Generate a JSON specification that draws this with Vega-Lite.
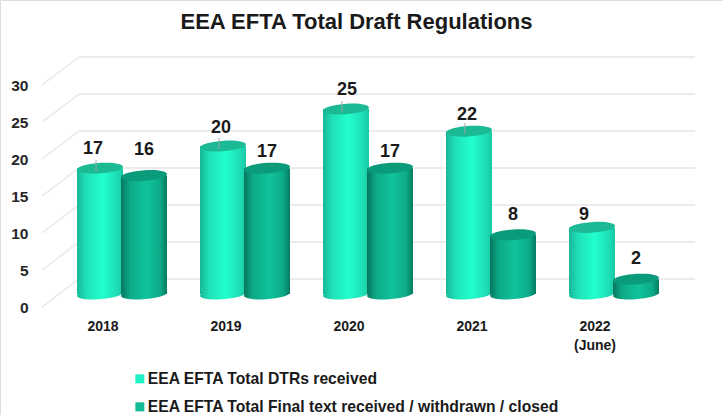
{
"$schema":"https://vega.github.io/schema/vega-lite/v6.json",
"width":723,"height":415,"padding":0,"autosize":{"type":"none"},"background":"white",
"title":{"text":"EEA EFTA Total Draft Regulations","font":"Liberation Sans","fontSize":22,"fontWeight":"bold","color":"#1a1a1a","anchor":"middle","dx":-5,"offset":-34},
"datasets":{
"bars":[
{"year":"2018","series":"EEA EFTA Total DTRs received","value":17},
{"year":"2019","series":"EEA EFTA Total DTRs received","value":20},
{"year":"2020","series":"EEA EFTA Total DTRs received","value":25},
{"year":"2021","series":"EEA EFTA Total DTRs received","value":22},
{"year":"2022","series":"EEA EFTA Total DTRs received","value":9},
{"year":"2018","series":"EEA EFTA Total Final text received / withdrawn / closed","value":16},
{"year":"2019","series":"EEA EFTA Total Final text received / withdrawn / closed","value":17},
{"year":"2020","series":"EEA EFTA Total Final text received / withdrawn / closed","value":17},
{"year":"2021","series":"EEA EFTA Total Final text received / withdrawn / closed","value":8},
{"year":"2022","series":"EEA EFTA Total Final text received / withdrawn / closed","value":2}
],
"levels":[{"level":0},{"level":5},{"level":10},{"level":15},{"level":20},{"level":25},{"level":30}]
},
"resolve":{"scale":{"x":"independent"}},
"layer":[
{"data":{"name":"levels"},"mark":{"type":"rule","color":"#e6e6e6","strokeWidth":1.2,"yOffset":13,"y2Offset":-15},
 "encoding":{"x":{"datum":0,"type":"quantitative","scale":{"domain":[0,1],"range":[42,79]},"axis":null},"x2":{"datum":1},
 "y":{"field":"level","type":"quantitative","title":null,"scale":{"domain":[0,30],"range":[294,72]},
 "axis":{"orient":"left","offset":-28,"values":[0,5,10,15,20,25,30],"domain":false,"ticks":false,"grid":false,"labelPadding":0,"labelOffset":13,"labelFont":"Liberation Sans","labelFontSize":15.5,"labelFontWeight":"bold","labelColor":"#262626"}},"y2":{"field":"level"}}},
{"data":{"name":"levels"},"mark":{"type":"rule","color":"#e6e6e6","strokeWidth":1.6,"yOffset":-15,"y2Offset":-15},
 "encoding":{"x":{"datum":0,"type":"quantitative","scale":{"domain":[0,1],"range":[79,695]},"axis":null},"x2":{"datum":1},
 "y":{"field":"level","type":"quantitative","title":null,
 "axis":{"orient":"left","offset":-28,"values":[0,5,10,15,20,25,30],"domain":false,"ticks":false,"grid":false,"labelPadding":0,"labelOffset":13,"labelFont":"Liberation Sans","labelFontSize":15.5,"labelFontWeight":"bold","labelColor":"#262626"}},"y2":{"field":"level"}}},
{"data":{"name":"bars"},
 "encoding":{
  "x":{"field":"year","type":"nominal","sort":null,"title":null,"scale":{"type":"band","paddingInner":0,"paddingOuter":0,"range":[60.5,675.5]},
   "axis":{"orient":"bottom","offset":-96,"domain":false,"ticks":false,"grid":false,"labelAngle":0,"labelOffset":-19,"labelPadding":0,"labelBaseline":"top","labelFont":"Liberation Sans","labelFontSize":14,"labelFontWeight":"bold","labelColor":"#1a1a1a","labelLineHeight":19,"labelExpr":"datum.value=='2022' ? ['2022','(June)'] : datum.label"}},
  "y":{"field":"value","type":"quantitative","title":null,"scale":{"domain":[0,30],"range":[294,72]},
   "axis":{"orient":"left","offset":-28,"values":[0,5,10,15,20,25,30],"domain":false,"ticks":false,"grid":false,"labelPadding":0,"labelOffset":13,"labelFont":"Liberation Sans","labelFontSize":15.5,"labelFontWeight":"bold","labelColor":"#262626"}}
 },
 "layer":[
  {"mark":{"type":"point","filled":true,"opacity":0},
   "encoding":{"color":{"field":"series","type":"nominal","sort":null,"scale":{"range":["#1ff2c4","#10bb95"]},
    "legend":{"orient":"none","legendX":132,"legendY":371,"title":null,"symbolType":"square","symbolSize":81,"symbolOpacity":1,"symbolStrokeWidth":0,"labelFont":"Liberation Sans","labelFontSize":15.7,"labelFontWeight":"bold","labelColor":"#1a1a1a","labelOffset":0,"rowPadding":11,"labelLimit":500,"symbolOffset":0}}}},
  {"transform":[{"filter":"datum.series=='EEA EFTA Total DTRs received'"}],
   "layer":[
    {"mark":{"type":"point","filled":true,"opacity":1,"size":2116,"xOffset":-22,"shape":"M-1,0.06A1,0.23,-4,1,1,1,-0.06A1,0.23,-4,1,1,-1,0.06Z","color":{"x1":0,"x2":1,"y1":0,"y2":0,"gradient":"linear","stops":[{"offset":0,"color":"#17b896"},{"offset":0.2,"color":"#1fe0b8"},{"offset":0.55,"color":"#22ffcc"},{"offset":0.85,"color":"#1fe0b8"},{"offset":1,"color":"#18c8a2"}]}},
     "encoding":{"y":{"datum":0,"type":"quantitative"}}},
    {"mark":{"type":"bar","width":46,"xOffset":-22,"color":{"x1":0,"x2":1,"y1":0,"y2":0,"gradient":"linear","stops":[{"offset":0,"color":"#17b896"},{"offset":0.2,"color":"#1fe0b8"},{"offset":0.55,"color":"#22ffcc"},{"offset":0.85,"color":"#1fe0b8"},{"offset":1,"color":"#18c8a2"}]}}},
    {"mark":{"type":"point","filled":true,"opacity":1,"size":2116,"xOffset":-22,"color":"#1bba95","shape":"M-1,0.06A1,0.23,-4,1,1,1,-0.06A1,0.23,-4,1,1,-1,0.06Z"}},
    {"transform":[{"filter":"datum.value!=9"}],"mark":{"type":"rule","color":"#9aa5a0","strokeWidth":1,"xOffset":-26,"yOffset":-8,"y2Offset":3},"encoding":{"y2":{"field":"value"}}}
   ]},
  {"transform":[{"filter":"datum.series!='EEA EFTA Total DTRs received'"}],
   "layer":[
    {"mark":{"type":"point","filled":true,"opacity":1,"size":2116,"xOffset":22,"shape":"M-1,0.06A1,0.23,-4,1,1,1,-0.06A1,0.23,-4,1,1,-1,0.06Z","color":{"x1":0,"x2":1,"y1":0,"y2":0,"gradient":"linear","stops":[{"offset":0,"color":"#05775e"},{"offset":0.2,"color":"#0dab87"},{"offset":0.55,"color":"#10c29a"},{"offset":0.85,"color":"#0cab88"},{"offset":1,"color":"#067a60"}]}},
     "encoding":{"y":{"datum":0,"type":"quantitative"}}},
    {"mark":{"type":"bar","width":46,"xOffset":22,"color":{"x1":0,"x2":1,"y1":0,"y2":0,"gradient":"linear","stops":[{"offset":0,"color":"#05775e"},{"offset":0.2,"color":"#0dab87"},{"offset":0.55,"color":"#10c29a"},{"offset":0.85,"color":"#0cab88"},{"offset":1,"color":"#067a60"}]}}},
    {"mark":{"type":"point","filled":true,"opacity":1,"size":2116,"xOffset":22,"color":"#0a9b7a","shape":"M-1,0.06A1,0.23,-4,1,1,1,-0.06A1,0.23,-4,1,1,-1,0.06Z"}}
   ]},
  {"transform":[{"filter":"datum.series=='EEA EFTA Total DTRs received' && datum.year=='2018'"}],"mark":{"type":"text","font":"Liberation Sans","fontSize":18,"fontWeight":"bold","color":"#1a1a1a","baseline":"middle","xOffset":-29,"yOffset":-19},"encoding":{"text":{"field":"value"}}},
  {"transform":[{"filter":"datum.series=='EEA EFTA Total DTRs received' && datum.year=='2019'"}],"mark":{"type":"text","font":"Liberation Sans","fontSize":18,"fontWeight":"bold","color":"#1a1a1a","baseline":"middle","xOffset":-24,"yOffset":-18},"encoding":{"text":{"field":"value"}}},
  {"transform":[{"filter":"datum.series=='EEA EFTA Total DTRs received' && datum.year=='2020'"}],"mark":{"type":"text","font":"Liberation Sans","fontSize":18,"fontWeight":"bold","color":"#1a1a1a","baseline":"middle","xOffset":-21,"yOffset":-19},"encoding":{"text":{"field":"value"}}},
  {"transform":[{"filter":"datum.series=='EEA EFTA Total DTRs received' && datum.year=='2021'"}],"mark":{"type":"text","font":"Liberation Sans","fontSize":18,"fontWeight":"bold","color":"#1a1a1a","baseline":"middle","xOffset":-24,"yOffset":-16},"encoding":{"text":{"field":"value"}}},
  {"transform":[{"filter":"datum.series=='EEA EFTA Total DTRs received' && datum.year=='2022'"}],"mark":{"type":"text","font":"Liberation Sans","fontSize":18,"fontWeight":"bold","color":"#1a1a1a","baseline":"middle","xOffset":-30,"yOffset":-12},"encoding":{"text":{"field":"value"}}},
  {"transform":[{"filter":"datum.series!='EEA EFTA Total DTRs received' && datum.value==16"}],"mark":{"type":"text","font":"Liberation Sans","fontSize":18,"fontWeight":"bold","color":"#1a1a1a","baseline":"middle","xOffset":22,"yOffset":-26},"encoding":{"text":{"field":"value"}}},
  {"transform":[{"filter":"datum.series!='EEA EFTA Total DTRs received' && datum.value==17"}],"mark":{"type":"text","font":"Liberation Sans","fontSize":18,"fontWeight":"bold","color":"#1a1a1a","baseline":"middle","xOffset":22,"yOffset":-16},"encoding":{"text":{"field":"value"}}},
  {"transform":[{"filter":"datum.series!='EEA EFTA Total DTRs received' && datum.value<10"}],"mark":{"type":"text","font":"Liberation Sans","fontSize":18,"fontWeight":"bold","color":"#1a1a1a","baseline":"middle","xOffset":22,"yOffset":-20},"encoding":{"text":{"field":"value"}}}
 ]}
]
}
